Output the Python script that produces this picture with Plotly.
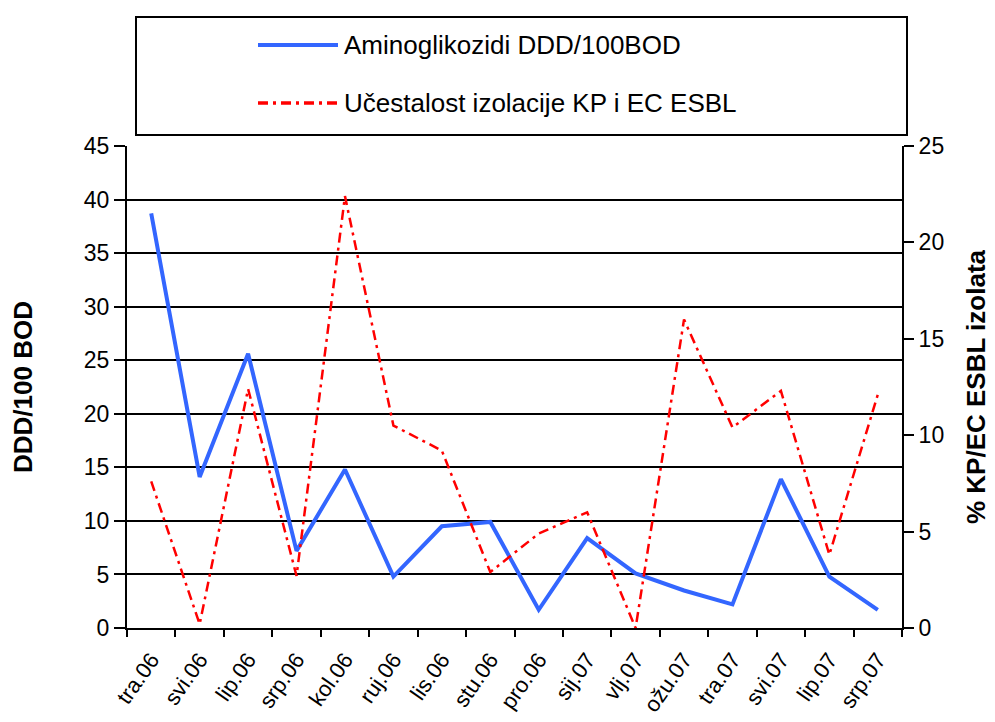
import plotly.graph_objects as go

months = ['tra.06', 'svi.06', 'lip.06', 'srp.06', 'kol.06', 'ruj.06', 'lis.06', 'stu.06',
          'pro.06', 'sij.07', 'vlj.07', 'ožu.07', 'tra.07', 'svi.07', 'lip.07', 'srp.07']
aminoglikozidi = [38.7, 14.1, 25.6, 7.2, 14.8, 4.8, 9.5, 9.9,
                  1.7, 8.4, 5.1, 3.5, 2.2, 13.9, 4.8, 1.7]
esbl = [7.6, 0.2, 12.4, 2.7, 22.4, 10.5, 9.2, 2.9,
        4.9, 6.0, 0.0, 16.0, 10.4, 12.3, 3.8, 12.1]

names = ['Aminoglikozidi DDD/100BOD', 'Učestalost izolacije KP i EC ESBL']
colors = ['#3366FF', '#FF0000']
widths = [4, 2.5]
dashes = ['solid', '10px,5px,3px,5px']

font = 'Liberation Sans, Arial, sans-serif'

# the page body has an 8px margin, so figure coords = screen coords - 8
OFF = 8
W, H = 995 - OFF, 722 - OFF
L, R, T, B = 127 - OFF, 902 - OFF, 146 - OFF, 628 - OFF
pw, ph = R - L, B - T


def px(x):
    return (x - OFF - L) / pw


def py(y):
    return (B - (y - OFF)) / ph


fig = go.Figure()
fig.add_trace(go.Scatter(
    x=months, y=aminoglikozidi,
    mode='lines',
    name=names[0],
    line=dict(color=colors[0], width=widths[0], dash=dashes[0])))
fig.add_trace(go.Scatter(
    x=months, y=esbl,
    mode='lines',
    name=names[1],
    yaxis='y2',
    line=dict(color=colors[1], width=widths[1], dash=dashes[1])))

# legend box drawn by hand to match the wide framed legend
shapes = [dict(
    type='rect', xref='paper', yref='paper',
    x0=px(136), x1=px(907), y0=py(135), y1=py(17),
    line=dict(color='black', width=2))]
annotations = []
for i, yy in enumerate([45, 103]):
    shapes.append(dict(
        type='line', xref='paper', yref='paper',
        x0=px(258), x1=px(338), y0=py(yy), y1=py(yy),
        line=dict(color=colors[i], width=widths[i] + (1 if i else 0), dash=dashes[i])))
    annotations.append(dict(
        xref='paper', yref='paper', x=px(342), y=py(yy),
        xanchor='left', yanchor='middle', showarrow=False,
        text=names[i], font=dict(family=font, size=26, color='black')))

fig.update_layout(
    width=W,
    height=H,
    paper_bgcolor='white',
    plot_bgcolor='white',
    margin=dict(l=L, r=W - R, t=T, b=H - B, autoexpand=False),
    font=dict(family=font, size=23, color='black'),
    showlegend=False,
    xaxis=dict(
        range=[-0.5, len(months) - 0.5],
        showline=True, linecolor='black', linewidth=2,
        ticks='outside', tickson='boundaries', ticklen=7, tickwidth=2,
        tickcolor='black',
        tickangle=-55,
        ticklabelstandoff=8,
        tickfont=dict(size=22),
        showgrid=False),
    yaxis=dict(
        range=[0, 45], dtick=5,
        showline=True, linecolor='black', linewidth=2,
        ticks='outside', ticklen=11, tickwidth=2, tickcolor='black',
        showgrid=True, gridcolor='black', gridwidth=2,
        zeroline=False,
        title=dict(text='<b>DDD/100 BOD</b>', font=dict(size=26), standoff=44)),
    yaxis2=dict(
        range=[0, 25], dtick=5,
        overlaying='y', side='right',
        showline=True, linecolor='black', linewidth=2,
        ticks='outside', ticklen=10, tickwidth=2, tickcolor='black',
        showgrid=False, zeroline=False,
        title=dict(text='<b>% KP/EC ESBL izolata</b>', font=dict(size=26), standoff=24)),
    shapes=shapes,
    annotations=annotations,
)

fig.write_html('out.html')
